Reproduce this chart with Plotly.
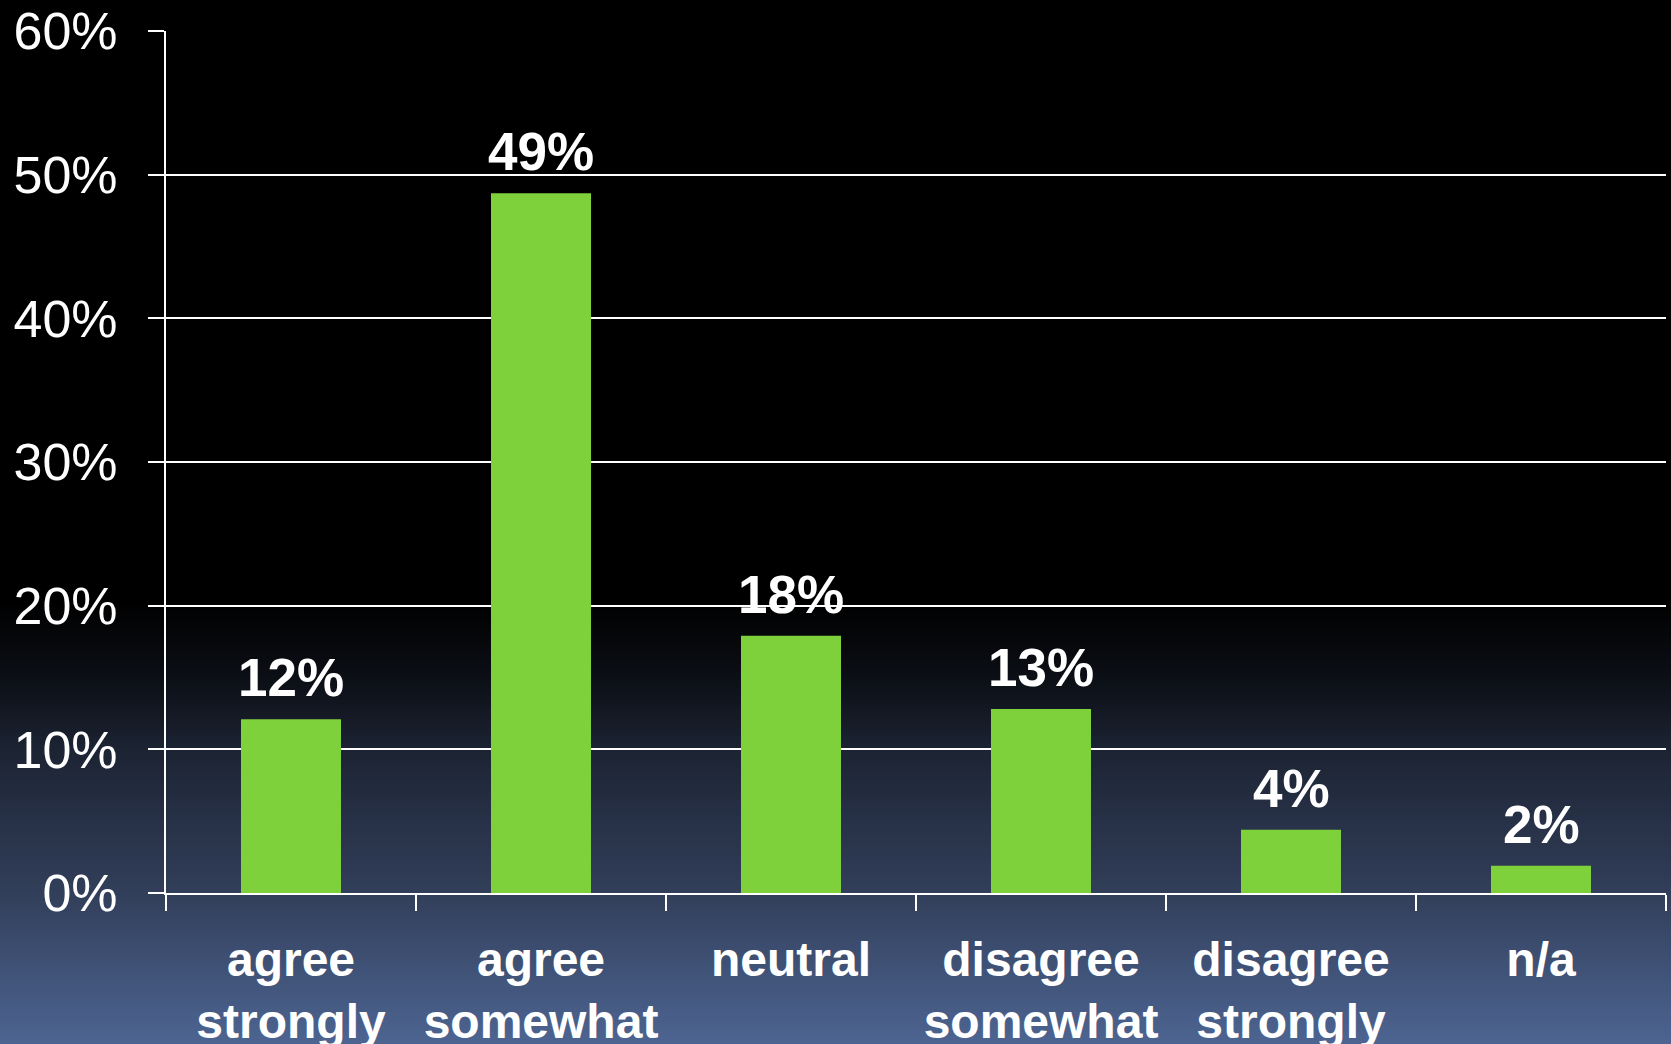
import plotly.graph_objects as go

categories = ["agree strongly", "agree somewhat", "neutral",
              "disagree somewhat", "disagree strongly", "n/a"]
tick_labels = ["agree<br>strongly", "agree<br>somewhat", "neutral",
               "disagree<br>somewhat", "disagree<br>strongly", "n/a"]
values = [12.1, 48.7, 17.9, 12.8, 4.4, 1.9]
value_labels = ["12%", "49%", "18%", "13%", "4%", "2%"]

FONT = "Liberation Sans, Arial, sans-serif"
W, H = 1671, 1044
ML, MR, MT, MB = 166, 5, 31, 151

fig = go.Figure()
fig.add_trace(go.Bar(x=categories, y=values, marker_color="#7fd13b",
                     marker_line_width=0, hoverinfo="skip"))

# value labels above bars
for c, v, t in zip(categories, values, value_labels):
    fig.add_annotation(x=c, y=v, text="<b>%s</b>" % t, showarrow=False,
                       yanchor="bottom", yshift=10,
                       font=dict(family=FONT, size=53, color="white"))

# background gradient: black above ~y=600px, fading to slate blue at bottom
stops = [(0, (0, 0, 0)), (600, (0, 0, 0)), (680, (12, 15, 22)),
         (750, (28, 35, 51)), (893, (50, 63, 90)), (1044, (77, 101, 146)),
         (1100, (77, 101, 146))]
ph = H - MT - MB

def px_to_paper(yp):
    return (H - MB - yp) / ph

step = 4
for y0 in range(600, 1096, step):
    ym = y0 + step / 2
    for (a, ca), (b, cb) in zip(stops[:-1], stops[1:]):
        if a <= ym <= b:
            f = (ym - a) / (b - a)
            col = tuple(round(ca[i] + (cb[i] - ca[i]) * f) for i in range(3))
            break
    fig.add_shape(type="rect", xref="paper", yref="paper", layer="below",
                  x0=-0.2, x1=1.2, y0=px_to_paper(y0 + step + 0.5), y1=px_to_paper(y0),
                  fillcolor="rgb(%d,%d,%d)" % col, line_width=0)

fig.update_layout(
    width=W, height=H,
    margin=dict(l=ML, r=MR, t=MT, b=MB),
    paper_bgcolor="black",
    plot_bgcolor="rgba(0,0,0,0)",
    bargap=0.6,
    showlegend=False,
    font=dict(family=FONT, color="white"),
)
fig.update_xaxes(
    tickmode="array", tickvals=categories, ticktext=tick_labels,
    tickson="boundaries", ticks="outside", ticklen=16, tickwidth=2, tickcolor="white",
    showline=True, linecolor="white", linewidth=2, showgrid=False,
    tickfont=dict(family=FONT, size=48, color="white", weight="bold"),
    ticklabelstandoff=23, automargin=False,
)
fig.update_yaxes(
    range=[0, 60], dtick=10, ticksuffix="%",
    ticks="outside", ticklen=16, tickwidth=2, tickcolor="white",
    showline=True, linecolor="white", linewidth=2,
    showgrid=True, gridcolor="white", gridwidth=2, zeroline=False,
    tickfont=dict(family=FONT, size=52, color="white"),
    ticklabelstandoff=20, automargin=False,
)

fig.write_html("out.html", config={"displayModeBar": False},
               post_script="document.body.style.margin='0';"
                           "document.body.style.background='rgb(77,101,146)';")
